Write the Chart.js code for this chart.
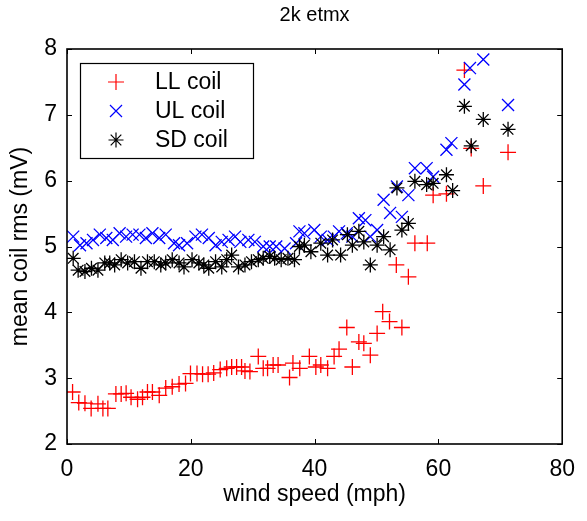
<!DOCTYPE html>
<html>
<head>
<meta charset="utf-8">
<title>2k etmx</title>
<script src="https://cdn.jsdelivr.net/npm/chart.js@4/dist/chart.umd.min.js"></script>
<style>
  html, body { margin: 0; padding: 0; background: #fff; }
</style>
</head>
<body>
<canvas id="myChart" width="587" height="521"></canvas>
<script>
// mean coil rms (mV) against wind speed (mph), one pair of arrays per coil
const llSpeed = [0.9, 1.9, 2.9, 3.9, 5.0, 5.8, 6.6, 7.9, 8.75, 9.55, 10.35, 11.4, 12.2, 13.0, 13.8, 14.9, 15.95, 17.0, 18.1,
    19.15, 19.95, 21.0, 21.9, 22.8, 23.7, 24.75, 25.8, 26.6, 27.4, 28.2, 28.75, 29.55, 30.9, 31.7, 32.4, 33.3, 34.1,
    35.95, 36.5, 37.6, 39.15, 40.2, 41.0, 42.1, 43.15, 43.95, 45.2, 46.1, 47.15, 47.95, 49.0, 50.1, 51.0, 52.1,
    53.2, 54.1, 55.15, 56.2, 58.2, 59.15, 61.3, 64.2, 65.3, 67.25, 71.25];
const llRms = [2.79, 2.63, 2.62, 2.54, 2.61, 2.54, 2.54, 2.76, 2.76, 2.77, 2.71, 2.68, 2.71, 2.79, 2.79, 2.74, 2.85, 2.87, 2.91,
    2.92, 3.07, 3.07, 3.06, 3.06, 3.08, 3.13, 3.15, 3.17, 3.17, 3.17, 3.11, 3.10, 3.33, 3.15, 3.15, 3.20, 3.20,
    3.01, 3.23, 3.15, 3.33, 3.17, 3.20, 3.15, 3.33, 3.44, 3.77, 3.17, 3.55, 3.53, 3.35, 3.68, 4.01, 3.86,
    4.72, 3.77, 4.54, 5.05, 5.05, 5.78, 5.80, 7.68, 6.49, 5.92, 6.43];

const ulSpeed = [1.0, 2.1, 3.15, 4.2, 5.3, 6.35, 7.4, 8.5, 9.55, 10.6, 11.7, 12.75, 13.8, 14.9, 15.95, 17.3, 18.1, 19.4,
    20.75, 21.8, 22.9, 24.0, 25.0, 26.1, 27.15, 28.0, 29.3, 30.35, 31.7, 32.75, 33.8, 35.15, 37.0, 37.55, 38.35,
    39.95, 41.0, 42.1, 43.1, 43.95, 45.2, 46.1, 47.15, 48.2, 49.0, 50.1, 51.15, 52.2, 53.3, 54.1, 55.15, 56.2,
    58.1, 59.15, 61.3, 62.1, 64.2, 65.1, 67.25, 71.25];
const ulRms = [5.15, 5.02, 5.05, 5.10, 5.18, 5.13, 5.10, 5.20, 5.15, 5.18, 5.18, 5.13, 5.20, 5.13, 5.18, 5.05, 5.02, 5.05,
    5.15, 5.18, 5.13, 5.02, 5.07, 5.10, 5.15, 5.07, 5.10, 5.07, 5.00, 5.00, 5.00, 4.97, 5.05, 5.23, 5.20,
    5.25, 5.15, 5.10, 5.15, 5.23, 5.20, 5.15, 5.43, 5.40, 5.15, 5.25, 5.71, 5.51, 5.91, 5.45, 5.78, 6.19,
    6.19, 6.06, 6.47, 6.57, 7.46, 7.71, 7.84, 7.15];

const sdSpeed = [1.0, 1.8, 2.9, 3.95, 5.0, 6.1, 6.9, 7.7, 8.75, 9.8, 10.9, 11.95, 13.0, 14.1, 15.15, 15.95, 17.0, 18.1,
    18.9, 20.2, 21.3, 22.1, 22.9, 24.0, 25.0, 25.8, 26.6, 27.7, 28.75, 29.8, 30.9, 31.7, 32.75, 33.55, 34.6,
    35.7, 36.75, 37.55, 38.35, 39.4, 41.0, 42.1, 42.9, 44.2, 45.3, 46.1, 47.15, 47.95, 49.0, 50.1, 51.15,
    52.2, 53.3, 54.1, 55.15, 56.2, 58.1, 59.15, 61.3, 62.3, 64.2, 65.3, 67.25, 71.25];
const sdRms = [4.82, 4.64, 4.62, 4.67, 4.64, 4.75, 4.75, 4.72, 4.80, 4.75, 4.77, 4.67, 4.77, 4.77, 4.72, 4.75, 4.80, 4.75,
    4.69, 4.80, 4.75, 4.72, 4.67, 4.77, 4.69, 4.80, 4.87, 4.69, 4.72, 4.77, 4.80, 4.82, 4.85, 4.82, 4.80,
    4.82, 4.80, 5.00, 5.02, 4.92, 5.05, 4.87, 5.10, 4.87, 5.18, 5.02, 5.23, 5.07, 4.72, 5.02, 5.15,
    4.95, 5.89, 5.25, 5.35, 5.99, 5.94, 5.96, 6.09, 5.85, 7.13, 6.53, 6.93, 6.78];

const coilNames = ['LL coil', 'UL coil', 'SD coil'];
const xTicks = [0, 20, 40, 60, 80];
const yTicks = [2, 3, 4, 5, 6, 7, 8];

const fontFamily = '"Liberation Sans", Arial, Helvetica, sans-serif';

function toPoints(xs, ys) {
    return xs.map(function(x, i) {
        return { x: x, y: ys[i] };
    });
}

// matlab style frame: box round the plot with ticks pointing inward on all four sides
const frameTicks = {
    id: 'frameTicks',
    afterDraw(chart) {
        const ctx = chart.ctx;
        const a = chart.chartArea;
        const xs = chart.scales.x;
        const ys = chart.scales.y;
        const len = 5;
        ctx.save();
        ctx.strokeStyle = '#000';
        ctx.lineWidth = 1;
        ctx.beginPath();
        xTicks.forEach(function(v) {
            const px = Math.round(xs.getPixelForValue(v)) + 0.5;
            ctx.moveTo(px, a.bottom); ctx.lineTo(px, a.bottom - len);
            ctx.moveTo(px, a.top); ctx.lineTo(px, a.top + len);
        });
        yTicks.forEach(function(v) {
            const py = Math.round(ys.getPixelForValue(v)) + 0.5;
            ctx.moveTo(a.left, py); ctx.lineTo(a.left + len, py);
            ctx.moveTo(a.right, py); ctx.lineTo(a.right - len, py);
        });
        ctx.stroke();
        ctx.lineWidth = 1.6;
        ctx.strokeRect(a.left, a.top, a.right - a.left, a.bottom - a.top);
        ctx.restore();
    }
};

// boxed legend in the upper left corner of the plot
const boxLegend = {
    id: 'boxLegend',
    afterDraw(chart) {
        const ctx = chart.ctx;
        const a = chart.chartArea;
        const left = a.left + 13, top = a.top + 14;
        const w = 173, h = 95;
        const rowH = 29;
        ctx.save();
        ctx.fillStyle = '#fff';
        ctx.fillRect(left, top, w, h);
        ctx.strokeStyle = '#000';
        ctx.lineWidth = 1.2;
        ctx.strokeRect(left + 0.5, top + 0.5, w, h);
        ctx.font = '23px ' + fontFamily;
        ctx.textBaseline = 'middle';
        ctx.textAlign = 'left';
        chart.data.datasets.forEach(function(ds, i) {
            const cy = top + 19 + i * rowH;
            const cx = left + 36;
            ctx.strokeStyle = ds.borderColor;
            ctx.fillStyle = ds.borderColor;
            Chart.helpers.drawPoint(ctx, {
                pointStyle: ds.pointStyle,
                radius: ds.pointRadius,
                borderWidth: ds.borderWidth,
                rotation: 0
            }, cx, cy);
            ctx.fillStyle = '#000';
            ctx.fillText(ds.label, left + 75, cy + 1);
        });
        ctx.restore();
    }
};

const ctx = document.getElementById('myChart').getContext('2d');
const myChart = new Chart(ctx, {
    type: 'scatter',
    data: {
        datasets: [{
            label: coilNames[0],
            data: toPoints(llSpeed, llRms),
            pointStyle: 'cross',
            pointRadius: 8,
            borderColor: '#ff0000',
            backgroundColor: '#ff0000',
            borderWidth: 1.3,
            order: 3
        }, {
            label: coilNames[1],
            data: toPoints(ulSpeed, ulRms),
            pointStyle: 'crossRot',
            pointRadius: 8.5,
            borderColor: '#0000ff',
            backgroundColor: '#0000ff',
            borderWidth: 1.3,
            order: 2
        }, {
            label: coilNames[2],
            data: toPoints(sdSpeed, sdRms),
            pointStyle: 'star',
            pointRadius: 7.5,
            borderColor: '#000000',
            backgroundColor: '#000000',
            borderWidth: 1.3,
            order: 1
        }]
    },
    options: {
        responsive: false,
        animation: false,
        events: [],
        layout: { padding: { left: 0, right: 20, top: 0, bottom: 0 } },
        plugins: {
            legend: { display: false },
            tooltip: { enabled: false },
            title: {
                display: true,
                fullSize: false,
                text: '2k etmx',
                color: '#000',
                font: { family: fontFamily, size: 20, weight: 'normal' },
                padding: { top: 3, bottom: 22 }
            }
        },
        scales: {
            x: {
                type: 'linear',
                min: 0,
                max: 80,
                afterBuildTicks: function(scale) {
                    scale.ticks = xTicks.map(function(v) { return { value: v }; });
                },
                afterFit: function(scale) { scale.height = 77; },
                grid: { display: false, drawTicks: false },
                border: { display: false },
                ticks: {
                    color: '#000',
                    padding: 12,
                    maxRotation: 0,
                    font: { family: fontFamily, size: 23 }
                },
                title: {
                    display: true,
                    text: 'wind speed (mph)',
                    color: '#000',
                    font: { family: fontFamily, size: 23 },
                    padding: { top: 0, bottom: 13 }
                }
            },
            y: {
                type: 'linear',
                min: 2,
                max: 8,
                afterBuildTicks: function(scale) {
                    scale.ticks = yTicks.map(function(v) { return { value: v }; });
                },
                afterFit: function(scale) { scale.width = 67; },
                grid: { display: false, drawTicks: false },
                border: { display: false },
                ticks: {
                    color: '#000',
                    padding: 10,
                    font: { family: fontFamily, size: 23 }
                },
                title: {
                    display: true,
                    text: 'mean coil rms (mV)',
                    color: '#000',
                    font: { family: fontFamily, size: 23 },
                    padding: { top: 7, bottom: 0 }
                }
            }
        }
    },
    plugins: [frameTicks, boxLegend]
});
</script>
</body>
</html>
